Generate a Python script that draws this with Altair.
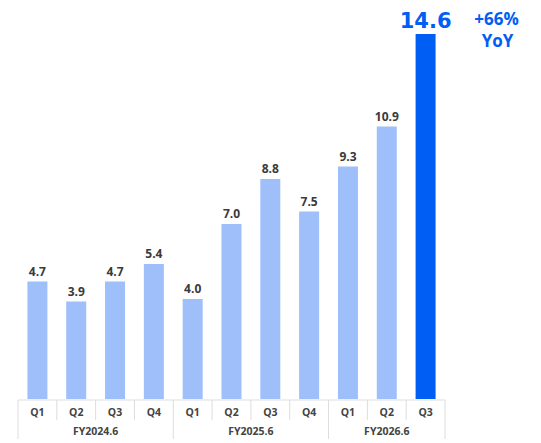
import altair as alt
import pandas as pd

quarters = ["Q1", "Q2", "Q3", "Q4", "Q1", "Q2", "Q3", "Q4", "Q1", "Q2", "Q3"]
fiscal_years = ["FY2024.6"] * 4 + ["FY2025.6"] * 4 + ["FY2026.6"] * 3
revenue = [4.7, 3.9, 4.7, 5.4, 4.0, 7.0, 8.8, 7.5, 9.3, 10.9, 14.6]
growth_text = "+66%"
growth_unit = "YoY"

FONT = "Open Sans"
BIG_FONT = "DejaVu Sans"
BLUE = "#005EF5"
LIGHT = "#9EBFFA"
GRID = "#dddddd"

df = pd.DataFrame({"idx": list(range(len(revenue))), "quarter": quarters,
                   "fy": fiscal_years, "value": revenue})
df["label"] = df["value"].map(lambda v: f"{v:.1f}")
df["latest"] = df["idx"] == df["idx"].max()

fy_df = df.groupby("fy", as_index=False)["idx"].mean()

starts = df.groupby("fy")["idx"].min().tolist()
group_lines = [s - 0.5 for s in starts] + [df["idx"].max() + 0.5]
q_lines = [i - 0.5 for i in df["idx"] if i not in starts]
group_df = pd.DataFrame({"pos": group_lines})
q_df = pd.DataFrame({"pos": q_lines})
top_df = pd.DataFrame({"start": [-0.5], "end": [df["idx"].max() + 0.5]})

latest_df = df[df["latest"]].copy()
latest_df["growth"] = growth_text
latest_df["unit"] = growth_unit

x_scale = alt.Scale(domain=[-0.5, len(revenue) - 0.5], nice=False, zero=False)
y_scale = alt.Scale(domain=[0, 15.64], nice=False)
X = alt.X("idx:Q", scale=x_scale, axis=None)
Y = alt.Y("value:Q", scale=y_scale, axis=None)

bars = alt.Chart(df).mark_bar(width=20).encode(
    x=X, y=Y,
    color=alt.condition("datum.latest", alt.value(BLUE), alt.value(LIGHT)),
)

labels = alt.Chart(df).transform_filter("!datum.latest").mark_text(
    dy=-6, baseline="alphabetic", fontSize=12, fontWeight="bold",
    color="#3a3a3a", font=FONT,
).encode(x=X, y=Y, text="label:N")

big = alt.Chart(latest_df).mark_text(
    dy=-6, baseline="alphabetic", fontSize=21, fontWeight="bold",
    color=BLUE, font=BIG_FONT,
).encode(x=X, y=Y, text="label:N")

growth = alt.Chart(latest_df).mark_text(
    dx=71, dy=-14, baseline="middle", fontSize=17, fontWeight="bold",
    color=BLUE, font=FONT,
).encode(x=X, y=Y, text="growth:N")

unit = alt.Chart(latest_df).mark_text(
    dx=72, dy=8, baseline="middle", fontSize=17, fontWeight="bold",
    color=BLUE, font=FONT,
).encode(x=X, y=Y, text="unit:N")

top_line = alt.Chart(top_df).mark_rule(color=GRID, strokeWidth=1).encode(
    x=alt.X("start:Q", scale=x_scale, axis=None), x2="end:Q", y=alt.value(392)
)
q_rules = alt.Chart(q_df).mark_rule(color=GRID, strokeWidth=1).encode(
    x=alt.X("pos:Q", scale=x_scale, axis=None), y=alt.value(392), y2=alt.value(412)
)
g_rules = alt.Chart(group_df).mark_rule(color=GRID, strokeWidth=1).encode(
    x=alt.X("pos:Q", scale=x_scale, axis=None), y=alt.value(392), y2=alt.value(431)
)

q_text = alt.Chart(df).mark_text(
    baseline="middle", fontSize=10.5, fontWeight="bold", color="#444444", font=FONT
).encode(x=X, y=alt.value(405), text="quarter:N")

fy_text = alt.Chart(fy_df).mark_text(
    baseline="middle", fontSize=10.5, fontWeight="bold", color="#444444", font=FONT
).encode(x=alt.X("idx:Q", scale=x_scale, axis=None), y=alt.value(424), text="fy:N")

chart = alt.layer(
    top_line, q_rules, g_rules, bars, labels, big, growth, unit, q_text, fy_text
).properties(
    width=437, height=391,
    padding={"left": 5, "top": 0, "right": 83, "bottom": 42},
    autosize=alt.AutoSizeParams(type="none"),
).configure_view(stroke=None)

chart.save("out.html", embed_options={"renderer": "svg", "actions": False})
